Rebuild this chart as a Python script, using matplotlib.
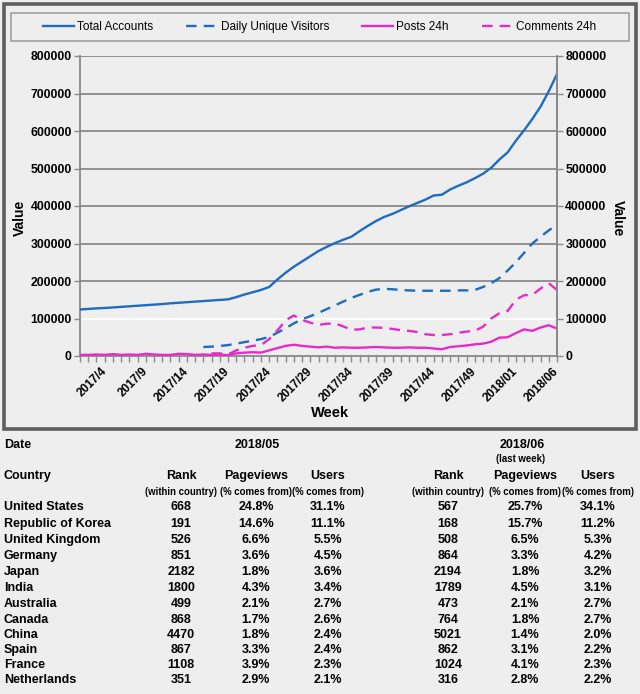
import numpy as np
import matplotlib.pyplot as plt
from matplotlib.patches import Rectangle

plt.rcParams['font.family'] = ['Liberation Sans', 'DejaVu Sans']

# weekly categories, 2017/1 .. 2018/06
weeks = [f'2017/{w}' for w in range(1, 53)] + [f'2018/{w:02d}' for w in range(0, 7)]
shown_labels = ['2017/4', '2017/9', '2017/14', '2017/19', '2017/24', '2017/29',
                '2017/34', '2017/39', '2017/44', '2017/49', '2018/01', '2018/06']

total_accounts = [124000, 125500, 127000, 128000, 129500, 131000, 132500, 134000, 135500, 137000,
                  138500, 140500, 142000, 143500, 145000, 146500, 148000, 149500, 151000, 157000,
                  164000, 170000, 176000, 184000, 204000, 222000, 238000, 252000, 266000, 280000,
                  291000, 301000, 310000, 318000, 333000, 347000, 360000, 371000, 379000, 389000,
                  399000, 408000, 417000, 428000, 430000, 444000, 454000, 463000, 474000, 486000,
                  502000, 524000, 543000, 574000, 602000, 632000, 665000, 706000, 752000]
daily_visitors = [None] * 15 + [24000, 25000, 27000, 29000, 33000,
                  37000, 41000, 45000, 51000, 62000, 74000, 87000, 98000, 106000, 115000,
                  125000, 135000, 145000, 155000, 163000, 171000, 177000, 179000, 178000, 176000,
                  175000, 174000, 174000, 174000, 174000, 174000, 175000, 175000, 176000, 184000,
                  194000, 208000, 228000, 250000, 275000, 300000, 318000, 335000, 350000]
posts_24h = [3000, 3000, 4000, 3000, 5000, 3000, 4000, 3000, 6000, 4000,
             3000, 3000, 6000, 5000, 3000, 4000, 3000, 4000, 2000, 7000,
             9000, 10000, 9000, 15000, 21000, 27000, 30000, 27000, 25000, 23000,
             25000, 22000, 23000, 22000, 22000, 23000, 24000, 23000, 22000, 22000,
             23000, 22000, 22000, 20000, 18000, 24000, 26000, 28000, 31000, 33000,
             38000, 49000, 50000, 61000, 71000, 67000, 76000, 82000, 73000]
comments_24h = [None] * 16 + [7000, 7000, 4000, 15000,
                22000, 27000, 29000, 45000, 68000, 95000, 108000, 96000, 89000, 83000,
                86000, 87000, 79000, 70000, 71000, 76000, 76000, 75000, 72000, 69000,
                67000, 64000, 58000, 56000, 56000, 58000, 62000, 65000, 67000, 78000,
                100000, 114000, 120000, 150000, 162000, 163000, 180000, 194000, 176000]

countries = ['United States', 'Republic of Korea', 'United Kingdom', 'Germany', 'Japan', 'India',
             'Australia', 'Canada', 'China', 'Spain', 'France', 'Netherlands']
rank_0518 = [668, 191, 526, 851, 2182, 1800, 499, 868, 4470, 867, 1108, 351]
pageviews_0518 = [24.8, 14.6, 6.6, 3.6, 1.8, 4.3, 2.1, 1.7, 1.8, 3.3, 3.9, 2.9]
users_0518 = [31.1, 11.1, 5.5, 4.5, 3.6, 3.4, 2.7, 2.6, 2.4, 2.4, 2.3, 2.1]
rank_0618 = [567, 168, 508, 864, 2194, 1789, 473, 764, 5021, 862, 1024, 316]
pageviews_0618 = [25.7, 15.7, 6.5, 3.3, 1.8, 4.5, 2.1, 1.8, 1.4, 3.1, 4.1, 2.8]
users_0618 = [34.1, 11.2, 5.3, 4.2, 3.2, 3.1, 2.7, 2.7, 2.0, 2.2, 2.3, 2.2]

BG = '#eeeeee'
BLUE = '#1f6cbf'
PINK = '#e52cc6'
W, H = 640, 694


def fx(x):
    return x / W


def fy(y):
    return 1 - y / H


fig = plt.figure(figsize=(6.4, 6.94), dpi=100, facecolor=BG)

# outer frame of the chart and the legend box
fig.patches.append(Rectangle((fx(4), fy(429)), fx(632), (429 - 4) / H, transform=fig.transFigure,
                             fill=False, edgecolor='#5e5e5e', linewidth=2.6))
fig.patches.append(Rectangle((fx(11), fy(41)), fx(618), 28 / H, transform=fig.transFigure,
                             fill=False, edgecolor='#a0a0a0', linewidth=1.2))

ax = fig.add_axes([fx(80), fy(356), fx(557 - 80), (356 - 56) / H])
ax.set_facecolor(BG)
x = np.arange(len(weeks))

def arr(v):
    return np.array([np.nan if a is None else a for a in v], dtype=float)

dash = (0, (4.5, 3))
l1, = ax.plot(x, arr(total_accounts), color=BLUE, lw=1.7, label='Total Accounts', zorder=3)
l2, = ax.plot(x, arr(daily_visitors), color=BLUE, lw=1.7, ls=dash, label='Daily Unique Visitors', zorder=3)
l3, = ax.plot(x, arr(posts_24h), color=PINK, lw=1.7, label='Posts 24h', zorder=3)
l4, = ax.plot(x, arr(comments_24h), color=PINK, lw=1.7, ls=dash, label='Comments 24h', zorder=3)

ax.set_xlim(0, len(weeks) - 1)
ax.set_ylim(0, 800000)
yt = np.arange(0, 800001, 100000)
ax.set_yticks(yt)
ax.set_yticklabels([str(v) for v in yt], fontweight='bold', fontsize=8.8)
for v in yt[1:]:
    ax.axhline(v, color='#ffffff' if v == 100000 else '#8a8a8a', lw=1.3, zorder=1)

ax.set_xticks(x)
ax.set_xticklabels([w if w in shown_labels else '' for w in weeks], rotation=45, ha='right',
                   va='center', rotation_mode='anchor', fontweight='bold', fontsize=8.5)
ax.tick_params(axis='x', length=4, width=1, color='#8a8a8a', pad=6)
ax.tick_params(axis='y', length=4, width=1, color='#8a8a8a', pad=2)
ax.spines['top'].set_visible(False)
for s in ['left', 'right', 'bottom']:
    ax.spines[s].set_color('#8a8a8a')
    ax.spines[s].set_linewidth(1.3)

ax2 = ax.twinx()
ax2.set_ylim(0, 800000)
ax2.set_yticks(yt)
ax2.set_yticklabels([str(v) for v in yt], fontweight='bold', fontsize=8.8)
ax2.tick_params(axis='y', length=4, width=1, color='#8a8a8a', pad=2)
for s in ['top', 'left', 'bottom']:
    ax2.spines[s].set_visible(False)
ax2.spines['right'].set_color('#8a8a8a')
ax2.spines['right'].set_linewidth(1.3)

fig.text(fx(20), fy(218), 'Value', rotation=90, ha='center', va='center', fontweight='bold', fontsize=10)
fig.text(fx(618), fy(218), 'Value', rotation=270, ha='center', va='center', fontweight='bold', fontsize=10)
fig.text(fx(330), fy(413), 'Week', ha='center', va='center', fontweight='bold', fontsize=10.5)

fig.legend(handles=[l1, l2, l3, l4], loc='center', bbox_to_anchor=(fx(319.5), fy(27)), ncol=4,
           frameon=False, fontsize=8.5, handlelength=2.6, handletextpad=0.3, columnspacing=2.8)

# table
fs = 9
sub = 6.9
fig.text(fx(4), fy(448), 'Date', fontweight='bold', fontsize=fs)
fig.text(fx(257), fy(448), '2018/05', ha='center', fontweight='bold', fontsize=fs)
fig.text(fx(522), fy(448), '2018/06', ha='center', fontweight='bold', fontsize=fs)
fig.text(fx(521), fy(461.5), '(last week)', ha='center', fontweight='bold', fontsize=sub)
fig.text(fx(4), fy(479), 'Country', fontweight='bold', fontsize=fs)
col_05 = [181, 256, 328]
col_06 = [448, 525, 598]
for cols in (col_05, col_06):
    for cx, head, sh in zip(cols, ['Rank', 'Pageviews', 'Users'],
                            ['(within country)', '(% comes from)', '(% comes from)']):
        fig.text(fx(cx), fy(479), head, ha='center', fontweight='bold', fontsize=fs)
        fig.text(fx(cx), fy(495), sh, ha='center', fontweight='bold', fontsize=sub)

for k, c in enumerate(countries):
    yb = 510.5 + 16.1 * min(k, 7) + 15 * max(k - 7, 0)
    fig.text(fx(4), fy(yb), c, fontweight='bold', fontsize=fs)
    vals = [str(rank_0518[k]), f'{pageviews_0518[k]:.1f}%', f'{users_0518[k]:.1f}%',
            str(rank_0618[k]), f'{pageviews_0618[k]:.1f}%', f'{users_0618[k]:.1f}%']
    for cx, v in zip(col_05 + col_06, vals):
        fig.text(fx(cx), fy(yb), v, ha='center', fontweight='bold', fontsize=fs)

fig.savefig('out.png', dpi=100, facecolor=BG)
